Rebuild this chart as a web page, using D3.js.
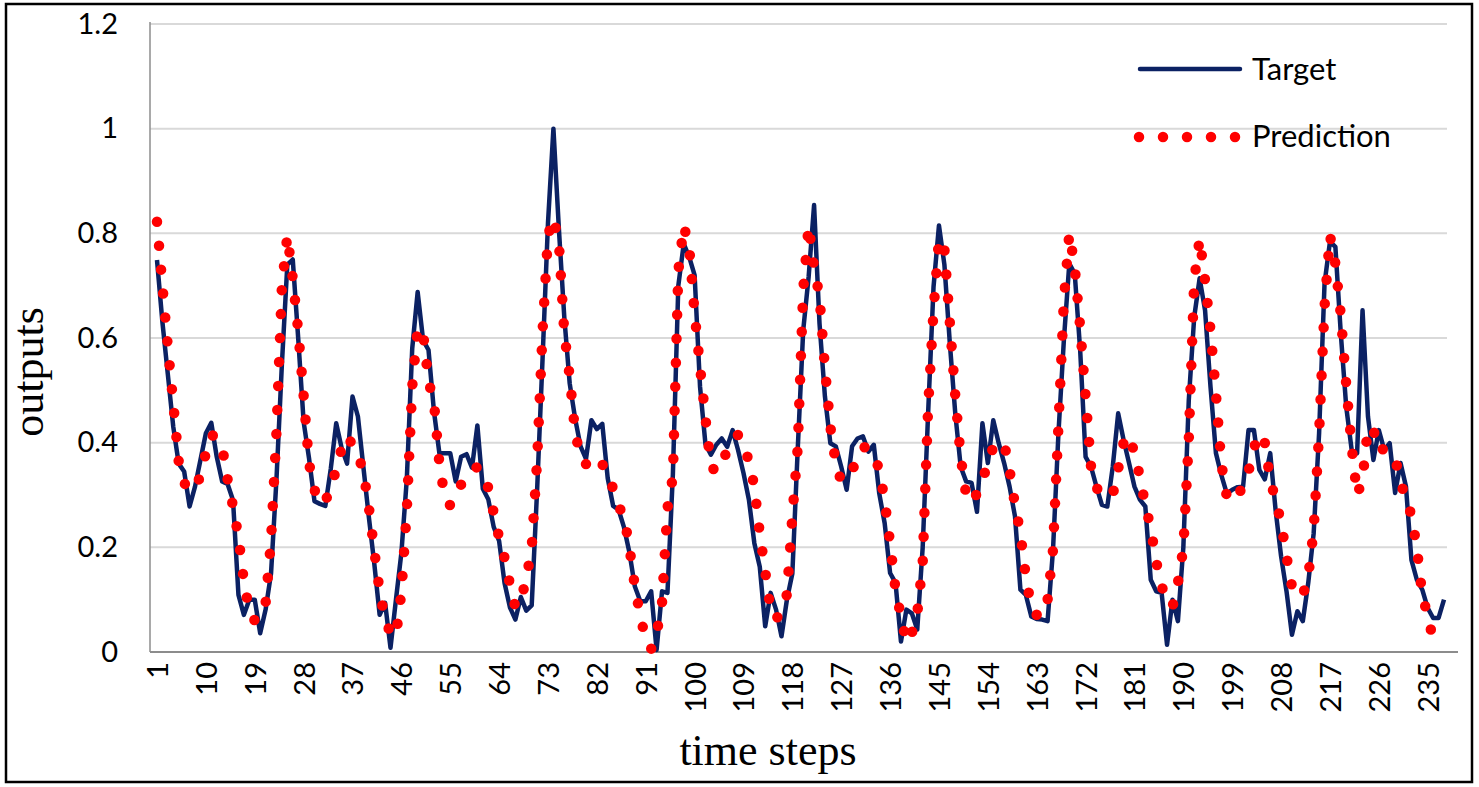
<!DOCTYPE html>
<html><head><meta charset="utf-8">
<script src="https://cdn.jsdelivr.net/npm/d3@7"></script>
<style>body{margin:0;background:#fff}svg{display:block}</style>
</head><body><svg id="c" width="1479" height="787"></svg>
<script>
const target = [
0.749,0.63,0.53,0.43,0.36,0.345,0.278,0.316,0.367,0.418,
0.438,0.373,0.326,0.321,0.29,0.109,0.071,0.10,0.10,0.036,
0.081,0.15,0.33,0.55,0.74,0.75,0.60,0.44,0.37,0.288,
0.283,0.279,0.35,0.437,0.39,0.36,0.488,0.45,0.354,0.259,
0.17,0.071,0.094,0.008,0.10,0.189,0.33,0.58,0.688,0.596,
0.577,0.46,0.38,0.38,0.38,0.326,0.373,0.378,0.352,0.433,
0.312,0.292,0.239,0.212,0.132,0.085,0.062,0.105,0.079,0.089,
0.31,0.56,0.82,1.0,0.81,0.64,0.513,0.446,0.393,0.369,
0.443,0.426,0.436,0.332,0.279,0.272,0.238,0.19,0.125,0.097,
0.097,0.116,0.004,0.116,0.113,0.34,0.70,0.78,0.755,0.72,
0.507,0.397,0.377,0.396,0.408,0.392,0.424,0.386,0.342,0.291,
0.208,0.163,0.049,0.113,0.081,0.03,0.10,0.15,0.39,0.615,
0.717,0.854,0.628,0.488,0.399,0.393,0.354,0.31,0.393,0.408,
0.412,0.383,0.396,0.303,0.246,0.151,0.132,0.02,0.081,0.074,
0.043,0.20,0.456,0.698,0.815,0.74,0.59,0.456,0.354,0.326,
0.323,0.268,0.437,0.361,0.443,0.399,0.361,0.316,0.259,0.119,
0.109,0.068,0.063,0.062,0.059,0.195,0.418,0.596,0.742,0.723,
0.577,0.373,0.354,0.316,0.281,0.278,0.354,0.456,0.405,0.361,
0.316,0.291,0.278,0.138,0.116,0.113,0.014,0.10,0.059,0.20,
0.481,0.64,0.714,0.653,0.507,0.38,0.338,0.303,0.31,0.315,
0.316,0.424,0.424,0.348,0.33,0.38,0.27,0.183,0.116,0.033,
0.078,0.059,0.132,0.227,0.418,0.704,0.784,0.774,0.608,0.468,
0.386,0.38,0.653,0.45,0.367,0.424,0.386,0.399,0.304,0.361,
0.316,0.176,0.138,0.119,0.084,0.065,0.065,0.10
];
const prediction = [
0.822,0.70,0.583,0.475,0.364,0.323,0.31,0.31,0.338,0.38,
0.415,0.41,0.392,0.33,0.278,0.22,0.135,0.078,0.06,0.065,
0.094,0.214,0.42,0.70,0.796,0.714,0.614,0.49,0.36,0.31,
0.285,0.285,0.323,0.345,0.39,0.413,0.396,0.377,0.345,0.278,
0.195,0.116,0.062,0.036,0.030,0.113,0.27,0.507,0.62,0.61,
0.517,0.478,0.36,0.295,0.28,0.30,0.32,0.34,0.346,0.354,
0.339,0.314,0.266,0.218,0.18,0.129,0.085,0.10,0.139,0.199,
0.366,0.613,0.796,0.83,0.783,0.61,0.526,0.419,0.372,0.359,
0.354,0.369,0.359,0.339,0.312,0.279,0.259,0.20,0.125,0.068,
0.024,0.006,0.035,0.094,0.275,0.335,0.728,0.815,0.774,0.647,
0.545,0.447,0.354,0.345,0.351,0.39,0.402,0.415,0.39,0.367,
0.316,0.227,0.154,0.081,0.063,0.078,0.11,0.26,0.392,0.693,
0.815,0.736,0.679,0.543,0.43,0.36,0.326,0.338,0.348,0.367,
0.392,0.39,0.378,0.348,0.29,0.208,0.119,0.068,0.018,0.036,
0.074,0.17,0.467,0.653,0.79,0.77,0.63,0.49,0.373,0.30,
0.285,0.303,0.329,0.36,0.392,0.402,0.399,0.348,0.281,0.227,
0.144,0.086,0.071,0.068,0.10,0.195,0.433,0.672,0.80,0.736,
0.621,0.488,0.354,0.313,0.307,0.295,0.30,0.35,0.40,0.415,
0.38,0.335,0.281,0.237,0.173,0.125,0.103,0.086,0.132,0.198,
0.405,0.71,0.79,0.71,0.615,0.494,0.36,0.297,0.287,0.30,
0.316,0.345,0.39,0.418,0.40,0.329,0.29,0.248,0.183,0.125,
0.106,0.109,0.144,0.233,0.418,0.66,0.796,0.742,0.644,0.51,
0.392,0.30,0.33,0.43,0.425,0.383,0.389,0.383,0.37,0.326,
0.29,0.262,0.199,0.109,0.069,0.024,0.03,0.036
];
const xTickLabels = [1,10,19,28,37,46,55,64,73,82,91,100,109,118,127,136,145,154,163,172,181,190,199,208,217,226,235];
const yTickValues = [0,0.2,0.4,0.6,0.8,1,1.2];
const yTickLabels = ["0","0.2","0.4","0.6","0.8","1","1.2"];
const seriesNames = ["Target","Prediction"];
const xTitle = "time steps";
const yTitle = "outputs";

const svg = d3.select("#c");
const navy = "#0b2163", red = "#ff0000";
const sans = "Lato, 'Open Sans', sans-serif";
const serif = "'Liberation Serif', 'Times New Roman', serif";

const x = d3.scaleLinear().domain([1, target.length]).range([157, 1444]);
const y = d3.scaleLinear().domain([0, 1.2]).range([652, 24]);

// outer border
svg.append("rect").attr("x",6).attr("y",4).attr("width",1466).attr("height",778)
  .attr("fill","#fff").attr("stroke","#000").attr("stroke-width",2.5);

// gridlines
svg.append("g").selectAll("line").data(yTickValues.filter(v=>v>0)).join("line")
  .attr("x1",150).attr("x2",1447).attr("y1",d=>y(d)).attr("y2",d=>y(d))
  .attr("stroke","#d9d9d9").attr("stroke-width",2);

// axis lines
svg.append("line").attr("x1",150).attr("x2",150).attr("y1",y(1.2)-2).attr("y2",y(0))
  .attr("stroke","#8c8c8c").attr("stroke-width",1.5);
svg.append("line").attr("x1",150).attr("x2",1458).attr("y1",y(0)).attr("y2",y(0))
  .attr("stroke","#8c8c8c").attr("stroke-width",2);

// y axis labels
const yAxis = svg.append("g").attr("transform","translate(150,0)")
  .call(d3.axisLeft(y).tickValues(yTickValues).tickSize(0).tickPadding(32)
    .tickFormat((d,i)=>yTickLabels[i]));
yAxis.select(".domain").remove();
yAxis.selectAll("text").style("font-family",sans).style("font-size","29px").attr("fill","#000");

// x axis labels
const xAxis = svg.append("g").attr("transform","translate(0,652)")
  .call(d3.axisBottom(x).tickValues(xTickLabels).tickSize(0).tickFormat(d3.format("d")));
xAxis.select(".domain").remove();
xAxis.selectAll("text")
  .attr("transform","rotate(-90)").attr("x",-10).attr("y",0).attr("dy","0.36em")
  .style("text-anchor","end").style("font-family",sans).style("font-size","29px").attr("fill","#000");

// series
const line = d3.line().x((d,i)=>x(i+1)).y(d=>y(d));
svg.append("path").datum(target).attr("d",line).attr("fill","none")
  .attr("stroke",navy).attr("stroke-width",4.5).attr("stroke-linejoin","round");
svg.append("path").datum(prediction).attr("d",line).attr("fill","none")
  .attr("stroke",red).attr("stroke-width",10.5).attr("stroke-linecap","round")
  .attr("stroke-dasharray","0 24");

// titles
svg.append("text").attr("transform","translate(43,372) rotate(-90)").attr("text-anchor","middle")
  .style("font-family",serif).style("font-size","44px").text(yTitle);
svg.append("text").attr("x",768).attr("y",765).attr("text-anchor","middle")
  .style("font-family",serif).style("font-size","44px").text(xTitle);

// legend
const lg = svg.append("g");
lg.append("line").attr("x1",1140).attr("x2",1240).attr("y1",69).attr("y2",69)
  .attr("stroke",navy).attr("stroke-width",4.5).attr("stroke-linecap","round");
lg.append("path").attr("d","M1139,137H1236").attr("stroke",red).attr("stroke-width",10.5)
  .attr("stroke-linecap","round").attr("stroke-dasharray","0 24");
lg.selectAll("text").data(seriesNames).join("text")
  .attr("x",1252).attr("y",(d,i)=>i===0?80:147)
  .style("font-family",sans).style("font-size","31px").attr("fill","#000").text(d=>d);
</script>
</body></html>
